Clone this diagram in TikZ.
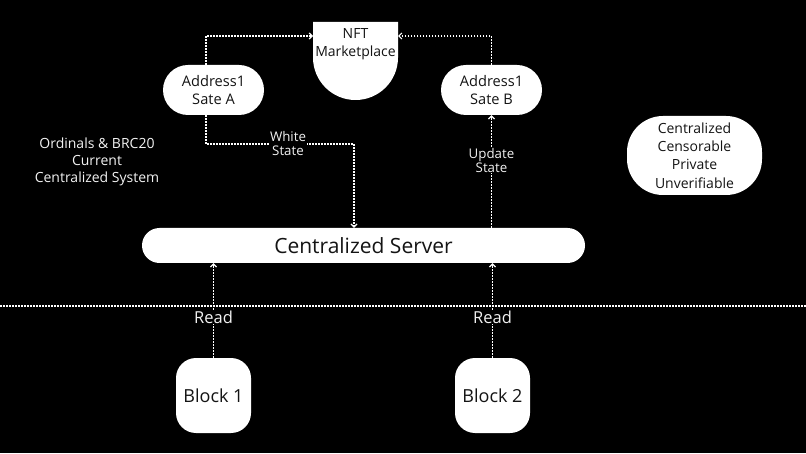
\documentclass[tikz,border=0pt]{standalone}
\usepackage{fontspec}
\setmainfont{Open Sans}
\usepackage{tikz}
\usetikzlibrary{arrows.meta}
\definecolor{ink}{HTML}{141414}
\definecolor{night}{HTML}{000000}
\definecolor{paper}{HTML}{FFFFFF}
\definecolor{chalk}{HTML}{F2F2F2}
\tikzset{
  box/.style    ={fill=paper, text=ink, align=center, inner sep=0pt},
  sate/.style   ={box, rounded corners=25pt, minimum width=101pt, minimum height=50pt,
                  font=\fontsize{14.6}{18.3}\selectfont},
  server/.style ={box, rounded corners=17.5pt, minimum width=443pt, minimum height=35pt,
                  font=\fontsize{21}{24}\selectfont},
  blk/.style    ={box, rounded corners=20pt, minimum width=75pt, minimum height=75pt,
                  font=\fontsize{18}{21}\selectfont},
  props/.style  ={box, rounded corners=36pt, minimum width=135pt, minimum height=79pt,
                  font=\fontsize{14}{18.3}\selectfont},
  txt/.style    ={text=ink, align=center, inner sep=0pt, font=\fontsize{14}{18}\selectfont},
  note/.style   ={text=chalk, align=center, inner sep=0pt, font=\fontsize{14}{16.7}\selectfont},
  lbl/.style    ={text=chalk, fill=night, align=center, inner sep=1pt,
                  font=\fontsize{13.3}{14}\selectfont},
  rd/.style     ={lbl, font=\fontsize{16.5}{18}\selectfont},
  dots/.style   ={draw=paper, line width=1.5pt, dash pattern=on 1.5pt off 1.5pt},
  flow/.style   ={dots, -{Straight Barb[length=3pt,width=6pt,line width=1.2pt]}},
}
\begin{document}
\begin{tikzpicture}[x=1pt,y=1pt]
  \useasboundingbox (0,0) rectangle (806,453);
  \fill[night] (0,0) rectangle (806,453);
  % marketplace cup
  \fill[paper] (313,431) -- (398,431) -- (398,395.5)
        arc[start angle=0,end angle=-180,radius=42.5] -- cycle;
  \node[txt] (nft) at (355.5,409) {NFT\\Marketplace};
  \coordinate (nftL) at (313,417);
  \coordinate (nftR) at (398,417);
  \node[sate] (sateA) at (213.5,363) {Address1\\Sate A};
  \node[sate] (sateB) at (491.5,363) {Address1\\Sate B};
  \node[server] (srv) at (363.5,207.5) {Centralized Server};
  \node[blk] (blk1) at (213.5,57.5) {Block 1};
  \node[blk] (blk2) at (492.5,57.5) {Block 2};
  \node[props] (props) at (694.5,297.5) {Centralized\\Censorable\\Private\\Unverifiable};
  \node[note] (title) at (97,291) {Ordinals \& BRC20\\Current\\Centralized System};
  % state flows
  \draw[flow] ([xshift=-7.5pt]sateA.north) |- (nftL);
  \draw[flow] (sateB.north) |- (nftR);
  \coordinate (wbend) at (354,309);
  \draw[flow] ([xshift=-7.5pt]sateA.south) |- (wbend) -- (wbend |- srv.north);
  \node[lbl] (white) at (288,309) {White\\State};
  \draw[flow] (sateB.south |- srv.north) -- node[lbl,pos=0.6]{Update\\State} (sateB.south);
  % reads from chain
  \draw[dots] (0,147) -- (806,147);
  \draw[flow] (blk1.north) -- node[rd,pos=0.43]{Read} (blk1.north |- srv.south);
  \draw[flow] (blk2.north) -- node[rd,pos=0.43]{Read} (blk2.north |- srv.south);
\end{tikzpicture}
\end{document}
